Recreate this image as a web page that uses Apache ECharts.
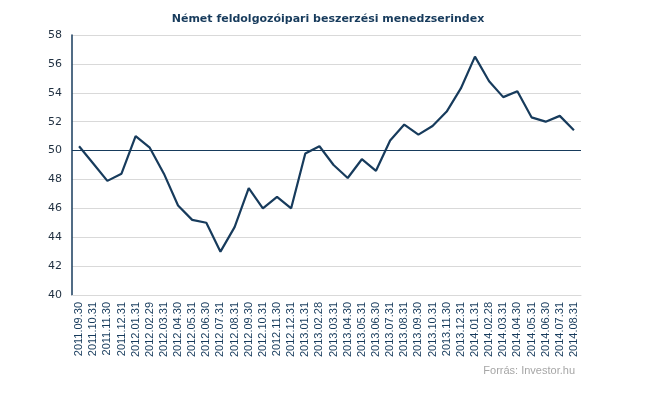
<!DOCTYPE html>
<html>
  <head>
    <meta charset="utf-8">
    <title>Német feldolgozóipari beszerzési menedzserindex</title>
    <script src="https://cdn.jsdelivr.net/npm/echarts@6/dist/echarts.min.js"></script>
    <style>
      html, body { margin: 0; padding: 0; background: #fff; }
      #chart { width: 645px; height: 396px; }
    </style>
  </head>
  <body>
    <div id="chart"></div>
    <script>
      // Months (last day of month)
      var dates = [
        '2011.09.30', '2011.10.31', '2011.11.30', '2011.12.31',
        '2012.01.31', '2012.02.29', '2012.03.31', '2012.04.30', '2012.05.31', '2012.06.30',
        '2012.07.31', '2012.08.31', '2012.09.30', '2012.10.31', '2012.11.30', '2012.12.31',
        '2013.01.31', '2013.02.28', '2013.03.31', '2013.04.30', '2013.05.31', '2013.06.30',
        '2013.07.31', '2013.08.31', '2013.09.30', '2013.10.31', '2013.11.30', '2013.12.31',
        '2014.01.31', '2014.02.28', '2014.03.31', '2014.04.30', '2014.05.31', '2014.06.30',
        '2014.07.31', '2014.08.31'
      ];
      // PMI values
      var pmi = [
        50.3, 49.1, 47.9, 48.4,
        51.0, 50.2, 48.4, 46.2, 45.2, 45.0,
        43.0, 44.7, 47.4, 46.0, 46.8, 46.0,
        49.8, 50.3, 49.0, 48.1, 49.4, 48.6,
        50.7, 51.8, 51.1, 51.7, 52.7, 54.3,
        56.5, 54.8, 53.7, 54.1, 52.3, 52.0,
        52.4, 51.4
      ];
      var threshold = 50;

      var navy = '#173b5c';
      var chart = echarts.init(document.getElementById('chart'));
      chart.setOption({
        animation: false,
        title: {
          text: 'Német feldolgozóipari beszerzési menedzserindex',
          left: 323,
          textAlign: 'center',
          top: 9,
          textStyle: {
            fontFamily: 'DejaVu Sans',
            fontSize: 11,
            fontWeight: 'bold',
            color: navy
          }
        },
        graphic: [{
          type: 'text',
          right: 70,
          top: 365,
          style: {
            text: 'Forrás: Investor.hu',
            fontFamily: 'Liberation Sans',
            fontSize: 11,
            fill: '#a6a6a6'
          }
        }],
        grid: { left: 72, right: 64, top: 35, bottom: 101 },
        xAxis: {
          type: 'category',
          data: dates,
          boundaryGap: true,
          axisLine: { lineStyle: { color: '#d9d9d9', width: 1 } },
          axisTick: { show: false },
          axisLabel: {
            rotate: 90,
            interval: 0,
            margin: 7,
            fontFamily: 'Liberation Sans',
            fontSize: 11,
            color: navy
          }
        },
        yAxis: {
          type: 'value',
          min: 40,
          max: 58,
          interval: 2,
          axisLine: { show: true, lineStyle: { color: navy, width: 1.5 } },
          axisTick: { show: false },
          axisLabel: {
            margin: 10,
            fontFamily: 'DejaVu Sans',
            fontSize: 11,
            color: '#1f2f40'
          },
          splitLine: { lineStyle: { color: '#d9d9d9', width: 1 } }
        },
        series: [{
          type: 'line',
          data: pmi,
          symbol: 'none',
          lineStyle: { color: navy, width: 2.2 },
          markLine: {
            silent: true,
            symbol: 'none',
            label: { show: false },
            lineStyle: { color: navy, width: 1, type: 'solid' },
            data: [{ yAxis: threshold }]
          }
        }]
      });
    </script>
  </body>
</html>
